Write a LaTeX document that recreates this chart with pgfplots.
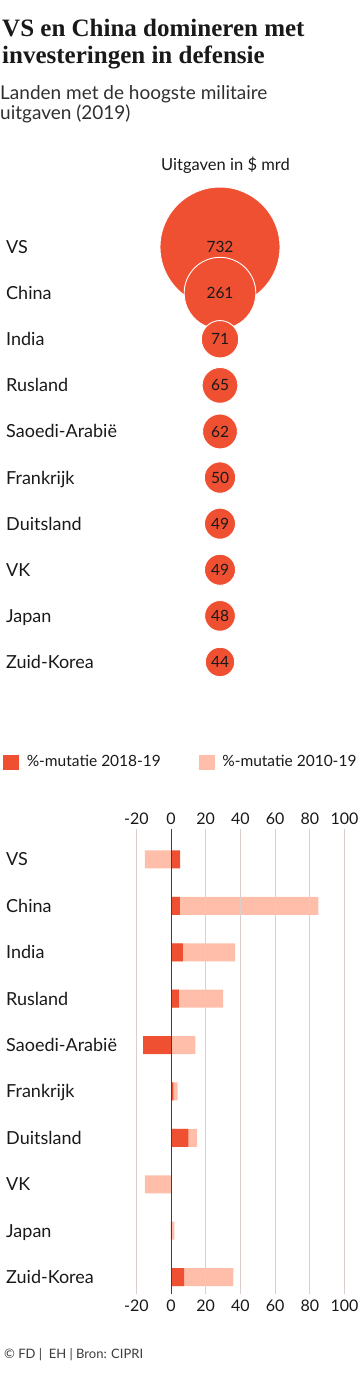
\documentclass[border=0pt]{standalone}
\usepackage{pgfplots}
\pgfplotsset{compat=1.18}
\usepackage{pgfplotstable}
\usepackage{fontspec}
\setmainfont{Lato}
\newfontfamily\titlefont{Liberation Serif}
\definecolor{fdred}{RGB}{240,80,50}
\definecolor{fdlight}{RGB}{255,190,170}
\definecolor{gridc}{RGB}{218,207,202}
\definecolor{txt}{RGB}{25,25,25}

% Military spending 2019, $ bn
\pgfplotstableread{
idx x v
0 220 732
1 220 261
2 220 71
3 220 65
4 220 62
5 220 50
6 220 49
7 220 49
8 220 48
9 220 44
}\spend

% a = %-change 2018-19, b = %-change 2010-19
\pgfplotstableread{
idx a b
0 5.3 -15
1 5.1 85
2 6.8 37
3 4.5 30
4 -16 14
5 1.4 3.8
6 10 15
7 0 -15
8 -0.1 2
9 7.5 36
}\change

\begin{document}
\begin{tikzpicture}
\path[use as bounding box] (0pt,0pt) rectangle (360pt,-1373pt);
\node[anchor=base west, inner sep=0, font=\titlefont\bfseries\fontsize{25}{27}\selectfont, text=txt] at (2pt,-36pt) {VS en China domineren met};
\node[anchor=base west, inner sep=0, font=\titlefont\bfseries\fontsize{25}{27}\selectfont, text=txt] at (2pt,-63.5pt) {investeringen in defensie};
\node[anchor=base west, inner sep=0, font=\fontsize{19}{21}\selectfont, text=txt!90] at (0pt,-99pt) {Landen met de hoogste militaire};
\node[anchor=base west, inner sep=0, font=\fontsize{19}{21}\selectfont, text=txt!90] at (0pt,-119pt) {uitgaven (2019)};
\node[anchor=base, inner sep=0, font=\fontsize{16.5}{18}\selectfont, text=txt] at (225.5pt,-170pt) {Uitgaven in \$ mrd};
\node[anchor=base west, inner sep=0, font=\fontsize{13}{14}\selectfont, text=txt!85] at (4pt,-1358pt) {© FD |\ \ EH | Bron: CIPRI};

% bubbles
\begin{axis}[at={(0pt,-224pt)}, anchor=north west, scale only axis, width=360pt, height=461pt,
 xmin=0, xmax=360, ymin=-0.5, ymax=9.5, y dir=reverse,
 axis line style={draw=none}, xtick=\empty, ytick={0,...,9},
 yticklabels={VS,China,India,Rusland,Saoedi-Arabië,Frankrijk,Duitsland,VK,Japan,Zuid-Korea},
 major tick length=0pt,
 yticklabel style={anchor=base west, inner sep=0pt, xshift=6pt, yshift=-6.5pt, font=\fontsize{18}{18}\selectfont, text=txt},
 clip=false,
 /pgf/number format/assume math mode=true,
]
\addplot[scatter, only marks, mark=*,
  visualization depends on={60*sqrt(\thisrow{v}/732) \as \rad},
  scatter/@pre marker code/.code={\scope[mark size=\rad, fill=fdred, draw=white, line width=0.9pt]},
  scatter/@post marker code/.code={\endscope},
  point meta=\thisrow{v},
] table[x=x, y=idx] {\spend};
\addplot[draw=none, mark=none,
  point meta=\thisrow{v},
  nodes near coords,
  nodes near coords align=center,
  every node near coord/.append style={anchor=center, inner sep=0pt, font=\fontsize{15.5}{15.5}\selectfont, text=txt},
] table[x=x, y=idx] {\spend};
\end{axis}

% bars
\begin{axis}[at={(136.3pt,-829pt)}, anchor=north west, scale only axis, width=208.2pt, height=465pt,
 xbar, bar width=18pt,
 xmin=-20, xmax=100, ymin=-0.657, ymax=9.366, y dir=reverse,
 axis line style={draw=none}, major tick length=0pt,
 xtick={-20,0,20,40,60,80,100}, xticklabel pos=upper,
 ytick={0,...,9},
 yticklabels={VS,China,India,Rusland,Saoedi-Arabië,Frankrijk,Duitsland,VK,Japan,Zuid-Korea},
 yticklabel style={anchor=base west, inner sep=0pt, xshift=-130.3pt, yshift=-6.5pt, font=\fontsize{18}{18}\selectfont, text=txt},
 xticklabel style={font=\fontsize{16}{16}\selectfont, text=txt, yshift=1pt},
 /pgf/number format/assume math mode=true,
 legend columns=2,
 legend style={at={(-0.6393,1.144)}, anchor=west, draw=none, fill=none, inner sep=0pt,
   font=\fontsize{15.5}{16}\selectfont, text=txt, nodes={inner sep=0pt},
   /tikz/every odd column/.append style={column sep=8pt},
   /tikz/every even column/.append style={column sep=38pt}},
]
\addplot[bar shift=0pt, fill=fdlight, draw=none, forget plot] table[x=b, y=idx] {\change};
\addplot[bar shift=0pt, fill=fdred, draw=none, forget plot] table[x=a, y=idx] {\change};
\addlegendimage{legend image code/.code={\fill[fdred] (0pt,-7pt) rectangle (15pt,7pt);}}
\addlegendentry{\%-mutatie 2018-19}
\addlegendimage{legend image code/.code={\fill[fdlight] (0pt,-7pt) rectangle (15pt,7pt);}}
\addlegendentry{\%-mutatie 2010-19}
\end{axis}

% grid, zero line (over the bars) and bottom tick labels
\begin{axis}[at={(136.3pt,-829pt)}, anchor=north west, scale only axis, width=208.2pt, height=465pt,
 xmin=-20, xmax=100, ymin=-0.657, ymax=9.366,
 axis line style={draw=none}, major tick length=0pt,
 xtick={-20,20,40,60,80,100}, xticklabel pos=lower, ytick=\empty,
 xmajorgrids, grid style={draw=gridc, line width=0.9pt},
 xticklabel style={font=\fontsize{16}{16}\selectfont, text=txt, yshift=-2.7pt},
 extra x ticks={0}, extra x tick style={grid=major, grid style={draw=black!75, line width=0.9pt}},
 /pgf/number format/assume math mode=true,
]
\end{axis}
\end{tikzpicture}
\end{document}
